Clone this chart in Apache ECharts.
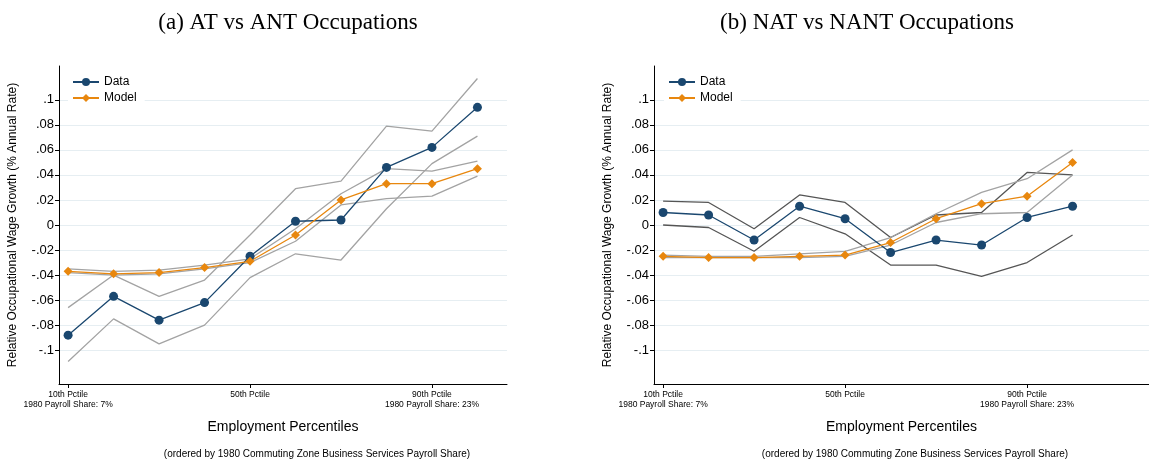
<!DOCTYPE html>
<html>
<head>
<meta charset="utf-8">
<script src="https://cdn.jsdelivr.net/npm/echarts@6/dist/echarts.min.js"></script>
<style>html,body{margin:0;padding:0;background:#fff}#chart{width:1149px;height:459px}</style>
</head>
<body>
<div id="chart"></div>
<script>
var pctiles = [10, 20, 30, 40, 50, 60, 70, 80, 90, 100];
var yTicks = [-0.1, -0.08, -0.06, -0.04, -0.02, 0, 0.02, 0.04, 0.06, 0.08, 0.1];
var xTicks = [10, 50, 90];
var xTickLabels = ['10th Pctile\n1980 Payroll Share: 7%', '50th Pctile', '90th Pctile\n1980 Payroll Share: 23%'];

// panel (a) AT vs ANT
var aData = [-0.088, -0.057, -0.076, -0.062, -0.025, 0.003, 0.004, 0.046, 0.062, 0.094];
var aDataHi = [-0.066, -0.040, -0.057, -0.044, -0.008, 0.029, 0.035, 0.079, 0.075, 0.117];
var aDataLo = [-0.109, -0.075, -0.095, -0.080, -0.042, -0.023, -0.028, 0.013, 0.049, 0.071];
var aModel = [-0.037, -0.039, -0.038, -0.034, -0.029, -0.008, 0.020, 0.033, 0.033, 0.045];
var aModelHi = [-0.035, -0.037, -0.036, -0.032, -0.027, -0.003, 0.025, 0.045, 0.043, 0.051];
var aModelLo = [-0.038, -0.040, -0.039, -0.035, -0.030, -0.013, 0.016, 0.021, 0.023, 0.039];

// panel (b) NAT vs NANT
var bData = [0.010, 0.008, -0.012, 0.015, 0.005, -0.022, -0.012, -0.016, 0.006, 0.015];
var bDataHi = [0.019, 0.018, -0.003, 0.024, 0.018, -0.010, 0.008, 0.010, 0.042, 0.040];
var bDataLo = [0.000, -0.002, -0.021, 0.006, -0.007, -0.032, -0.032, -0.041, -0.030, -0.008];
var bModel = [-0.025, -0.026, -0.026, -0.025, -0.024, -0.014, 0.005, 0.017, 0.023, 0.050];
var bModelHi = [-0.024, -0.025, -0.025, -0.023, -0.021, -0.010, 0.009, 0.026, 0.037, 0.060];
var bModelLo = [-0.026, -0.026, -0.026, -0.026, -0.025, -0.016, 0.002, 0.009, 0.010, 0.040];

var blue = '#1a476f', orange = '#e8870e', grey = '#a3a3a3', dark = '#555555';

function pairs(v) { return pctiles.map(function (p, i) { return [p, v[i]]; }); }
function fmtY(v) {
  var s = (Math.round(v * 100) / 100).toString();
  return s.replace('0.', '.');
}

function xAxis(idx, max) {
  return {
    gridIndex: idx, type: 'value', min: 8, max: max,
    axisLine: { onZero: false, lineStyle: { color: '#000' } },
    splitLine: { show: false },
    axisTick: { customValues: xTicks, length: 4, lineStyle: { color: '#000' } },
    axisLabel: {
      customValues: xTicks, fontSize: 8.5, color: '#000', lineHeight: 10, margin: 6,
      formatter: function (v) { return xTickLabels[xTicks.indexOf(v)]; }
    },
    name: 'Employment Percentiles', nameLocation: 'middle', nameGap: 36,
    nameTextStyle: { fontSize: 14, color: '#000', fontFamily: 'Liberation Sans' }
  };
}
function yAxis(idx) {
  return {
    gridIndex: idx, type: 'value', min: -0.127, max: 0.127,
    axisLine: { show: true, onZero: false, lineStyle: { color: '#000' } },
    axisTick: { show: true, customValues: yTicks, length: 4, lineStyle: { color: '#000' } },
    axisLabel: { customValues: yTicks, fontSize: 13, color: '#000', formatter: fmtY, margin: 5 },
    splitLine: { show: true, lineStyle: { color: '#e6eef2', width: 1 } },
    name: 'Relative Occupational Wage Growth (% Annual Rate)', nameLocation: 'middle', nameGap: 40,
    nameTextStyle: { fontSize: 12, color: '#000', fontFamily: 'Liberation Sans' }
  };
}
function ci(idx, v, color) {
  return { type: 'line', xAxisIndex: idx, yAxisIndex: idx, data: pairs(v), symbol: 'none',
    lineStyle: { color: color, width: 1.3 }, silent: true, z: 1 };
}
function main(idx, name, v, color, sym, size) {
  return { name: name, type: 'line', xAxisIndex: idx, yAxisIndex: idx, data: pairs(v),
    symbol: sym, symbolSize: size, itemStyle: { color: color }, lineStyle: { color: color, width: 1.3 }, z: 3 };
}

var option = {
  animation: false,
  textStyle: { fontFamily: 'Liberation Sans' },
  title: [
    { text: '(a) AT vs ANT Occupations', left: 283, top: 6, textAlign: 'center',
      textStyle: { fontFamily: 'Liberation Serif', fontSize: 23, fontWeight: 'normal', color: '#000' } },
    { text: '(b) NAT vs NANT Occupations', left: 862, top: 6, textAlign: 'center',
      textStyle: { fontFamily: 'Liberation Serif', fontSize: 23, fontWeight: 'normal', color: '#000' } },
    { text: '(ordered by 1980 Commuting Zone Business Services Payroll Share)', left: 312, top: 444, textAlign: 'center',
      textStyle: { fontSize: 10, fontWeight: 'normal', color: '#000' } },
    { text: '(ordered by 1980 Commuting Zone Business Services Payroll Share)', left: 910, top: 444, textAlign: 'center',
      textStyle: { fontSize: 10, fontWeight: 'normal', color: '#000' } }
  ],
  legend: [
    { data: ['Data', 'Model'], orient: 'vertical', left: 68, top: 74, itemGap: 4, itemWidth: 26, itemHeight: 10,
      backgroundColor: '#fff', padding: [2, 8, 2, 4], textStyle: { fontSize: 12, color: '#000' } },
    { data: ['Data', 'Model'], orient: 'vertical', left: 664, top: 74, itemGap: 4, itemWidth: 26, itemHeight: 10,
      backgroundColor: '#fff', padding: [2, 8, 2, 4], textStyle: { fontSize: 12, color: '#000' } }
  ],
  grid: [
    { left: 59, top: 66, width: 448, height: 318 },
    { left: 654, top: 66, width: 495, height: 318 }
  ],
  xAxis: [xAxis(0, 106.5), xAxis(1, 116.8)],
  yAxis: [yAxis(0), yAxis(1)],
  series: [
    ci(0, aDataHi, grey), ci(0, aDataLo, grey), ci(0, aModelHi, grey), ci(0, aModelLo, grey),
    main(0, 'Data', aData, blue, 'circle', 9),
    main(0, 'Model', aModel, orange, 'diamond', 9),
    ci(1, bDataHi, dark), ci(1, bDataLo, dark), ci(1, bModelHi, grey), ci(1, bModelLo, grey),
    main(1, 'Data', bData, blue, 'circle', 9),
    main(1, 'Model', bModel, orange, 'diamond', 9)
  ]
};
echarts.init(document.getElementById('chart')).setOption(option);
</script>
</body>
</html>
